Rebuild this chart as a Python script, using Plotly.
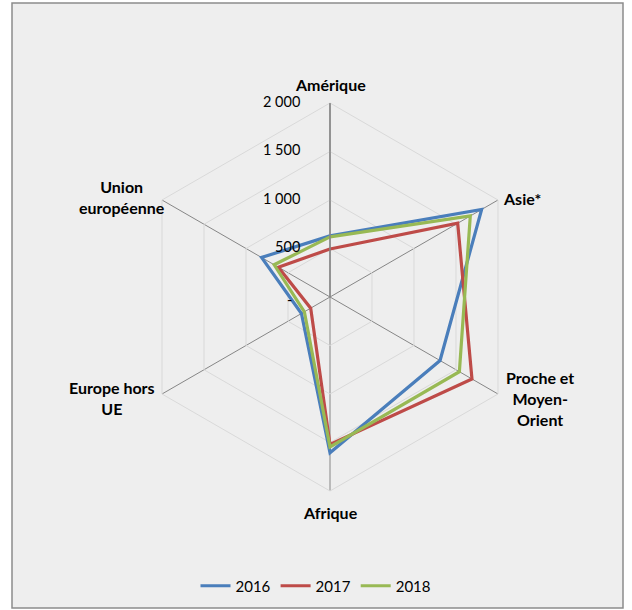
import plotly.graph_objects as go

# Regions (clockwise from the top) and yearly values
categories = ["Amérique", "Asie*", "Proche et Moyen-Orient", "Afrique", "Europe hors UE", "Union européenne"]
category_labels = ["Amérique", "Asie*", "Proche et<br>Moyen-<br>Orient", "Afrique", "Europe hors<br>UE", "Union<br>européenne"]
years = ["2016", "2017", "2018"]
values_2016 = [630, 1805, 1310, 1605, 340, 815]
values_2017 = [495, 1520, 1690, 1520, 230, 615]
values_2018 = [620, 1670, 1540, 1545, 305, 665]
tick_values = [0, 500, 1000, 1500, 2000]
tick_labels = ["-", "500", "1 000", "1 500", "2 000"]

series = [values_2016, values_2017, values_2018]
colors = ["#4A7EBB", "#BE4B48", "#98B954"]

W, H = 632, 610
cx, cy, R = 330, 297, 194

fig = go.Figure()
for year, vals, col in zip(years, series, colors):
    fig.add_trace(go.Scatterpolar(
        r=vals + vals[:1],
        theta=categories + categories[:1],
        mode="lines",
        name=year,
        line=dict(color=col, width=3.2),
    ))

# Radial scale labels along the Amérique spoke, right-aligned left of it
pad = "\u00a0" * 8
fig.add_trace(go.Scatterpolar(
    r=tick_values[1:],
    theta=[categories[0]] * (len(tick_values) - 1),
    mode="text",
    text=[t + pad for t in tick_labels[1:]],
    textposition="middle left",
    textfont=dict(size=14.5, color="#000000"),
    cliponaxis=False,
    showlegend=False,
    hoverinfo="skip",
))

font = "Lato, 'Open Sans', sans-serif"

fig.update_layout(
    width=W, height=H,
    margin=dict(l=0, r=0, t=0, b=0),
    paper_bgcolor="white",
    font=dict(family=font, size=14, color="#000000"),
    polar=dict(
        domain=dict(x=[(cx - R) / W, (cx + R) / W], y=[1 - (cy + R) / H, 1 - (cy - R) / H]),
        bgcolor="rgba(0,0,0,0)",
        gridshape="linear",
        radialaxis=dict(
            range=[0, 2000],
            tickvals=tick_values,
            showticklabels=False,
            angle=90,
            showline=True,
            linecolor="#868686",
            linewidth=1.5,
            gridcolor="#D9D9D9",
            gridwidth=1,
            ticks="",
        ),
        angularaxis=dict(
            rotation=90,
            direction="clockwise",
            showticklabels=False,
            ticks="",
            gridcolor="#868686",
            gridwidth=1,
            showline=True,
            linecolor="#D9D9D9",
            linewidth=1,
        ),
    ),
    legend=dict(
        orientation="h",
        x=0.5, xanchor="center",
        y=1 - 586 / H, yanchor="middle",
        bgcolor="rgba(0,0,0,0)",
        font=dict(size=15),
    ),
    shapes=[dict(
        type="rect", xref="paper", yref="paper", layer="below",
        x0=12 / W, x1=623 / W, y0=1 - 608 / H, y1=1 - 3 / H,
        fillcolor="#EEEEEE", line=dict(color="#8C8C8C", width=1.5),
    )],
)

# Zero label at the centre of the chart
fig.add_annotation(
    x=cx / W, y=1 - cy / H, xref="paper", yref="paper",
    text=tick_labels[0], showarrow=False,
    xanchor="right", yanchor="middle", xshift=-36, yshift=-3,
    font=dict(size=14.5, color="#000000"),
)

# Category names placed around the outer ring
label_pos = [(330, 84), (522, 199), (540, 398), (330, 512), (112, 398), (122, 197)]
for text, (x, y) in zip(category_labels, label_pos):
    fig.add_annotation(
        x=x / W, y=1 - y / H, xref="paper", yref="paper",
        text="<b>" + text + "</b>", showarrow=False, align="center",
        xanchor="center", yanchor="middle", font=dict(size=16),
    )

fig.write_html("out.html")
